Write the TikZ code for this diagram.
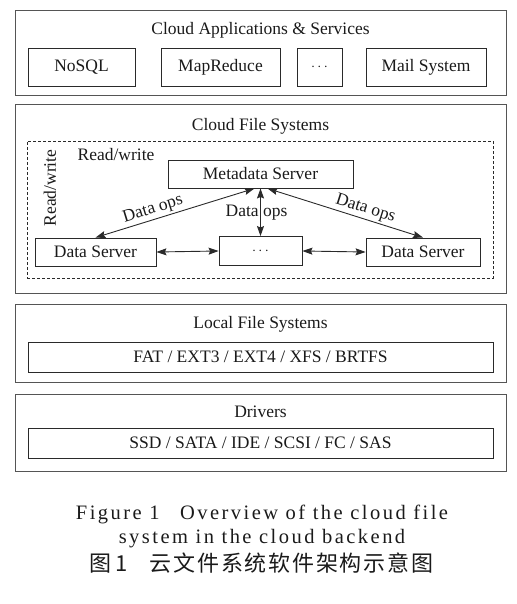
\documentclass[tikz,border=0pt]{standalone}
\usepackage{fontspec}
\setmainfont{Liberation Serif}
\newfontfamily\capfont[LetterSpace=12]{Liberation Serif}
\newfontfamily\cjkcap[LetterSpace=8]{Noto Sans CJK SC}
\usetikzlibrary{arrows.meta}
\definecolor{txt}{HTML}{1a1a1a}
\definecolor{outline}{HTML}{555555}
\definecolor{inl}{HTML}{2a2a2a}
\newcommand{\mydots}{{\fontsize{15}{15}\selectfont$\cdots$}}
\begin{document}
\begin{tikzpicture}[x=1pt,y=-1pt,
  every node/.style={text=txt, font=\fontsize{17.5}{20}\selectfont},
  outer/.style={draw=outline, line width=1pt, inner sep=0pt},
  ibox/.style={draw=inl, line width=0.9pt, inner sep=0pt},
  dbox/.style={draw=inl, line width=0.8pt, dashed, dash pattern=on 3pt off 2pt, inner sep=0pt},
  arr/.style={{Stealth[length=10pt,width=7pt,inset=1.5pt]}-{Stealth[length=10pt,width=7pt,inset=1.5pt]}, draw=inl, line width=0.9pt},
  capt/.style={font=\fontsize{20.5}{24}\selectfont\capfont},
]
\useasboundingbox (0,0) rectangle (516,604);
% Layer 1
\node[outer, minimum width=491, minimum height=85] (l1) at (260.5,53.5) {};
\node (t1) at (260.5,30) {Cloud Applications \& Services};
\node[ibox, minimum width=107, minimum height=38] (nosql) at (81.5,67) {NoSQL};
\node[ibox, minimum width=119, minimum height=38] (mapr) at (220.5,67) {MapReduce};
\node[ibox, minimum width=45, minimum height=38] (adots) at (319.5,67) {\mydots};
\node[ibox, minimum width=120, minimum height=38] (mail) at (426,67) {Mail System};
% Layer 2
\node[outer, minimum width=491, minimum height=188] (l2) at (260.5,199) {};
\node (t2) at (260.5,126) {Cloud File Systems};
\node[dbox, minimum width=466, minimum height=137] (dash) at (260,209.5) {};
\node (rw1) at (116,155) {Read/write};
\node[rotate=90] (rw2) at (50,188) {Read/write};
\node[ibox, minimum width=185, minimum height=28] (meta) at (260.5,174) {Metadata Server};
\node[ibox, minimum width=121, minimum height=28] (ds1) at (95.5,252) {Data Server};
\node[ibox, minimum width=83, minimum height=29] (mid) at (260.5,251) {\mydots};
\node[ibox, minimum width=114, minimum height=28] (ds2) at (423,252) {Data Server};
\draw[arr] (ds1.north) -- node[pos=0.38, sloped, above, inner sep=2pt] {Data ops} ([xshift=-6pt]meta.south);
\draw[arr] (mid.north) -- node[xshift=-4pt] {Data ops} (meta.south);
\draw[arr] (ds2.north) -- node[pos=0.39, sloped, above, inner sep=2pt] {Data ops} ([xshift=7pt]meta.south);
\draw[arr] (ds1.east) -- (mid.west);
\draw[arr] (mid.east) -- (ds2.west);
% Layer 3
\node[outer, minimum width=491, minimum height=78] (l3) at (260.5,343) {};
\node (t3) at (260.5,324) {Local File Systems};
\node[ibox, minimum width=465, minimum height=30] (fs) at (260.5,357) {FAT / EXT3 / EXT4 / XFS / BRTFS};
% Layer 4
\node[outer, minimum width=491, minimum height=77] (l4) at (260.5,432.5) {};
\node (t4) at (260.5,412) {Drivers};
\node[ibox, minimum width=465, minimum height=30] (drv) at (260.5,443) {SSD / SATA / IDE / SCSI / FC / SAS};
% Caption
\node[capt] (c1) at (262,514) {Figure 1\quad Overview of the cloud file};
\node[capt] (c2) at (262,539) {system in the cloud backend};
\node[font=\fontsize{22}{24}\selectfont\cjkcap] (c3) at (261.5,563) {图\,1\quad 云文件系统软件架构示意图};
\end{tikzpicture}
\end{document}
